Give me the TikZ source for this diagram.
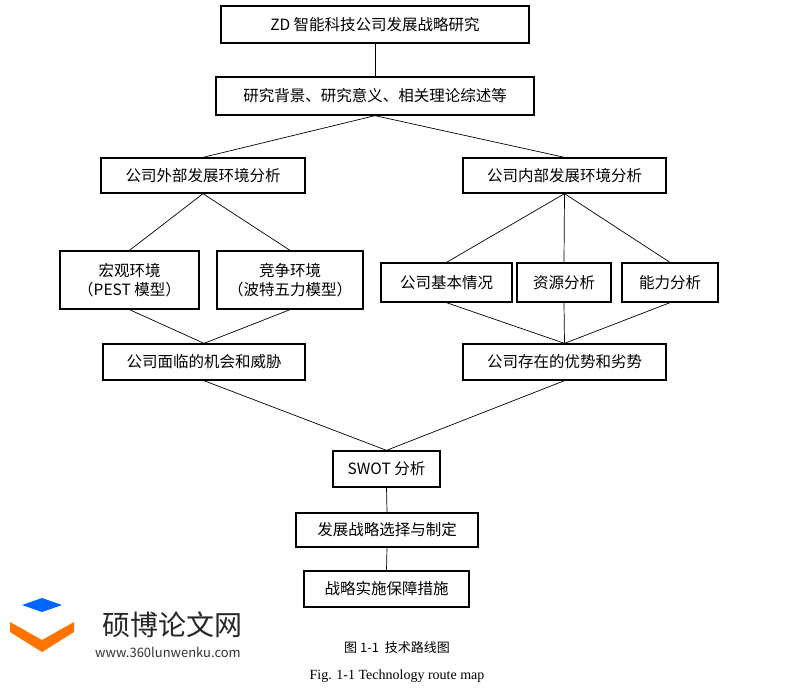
\documentclass[tikz,border=0pt]{standalone}
\usepackage{fontspec}
\setmainfont{Liberation Serif}
\newfontfamily\cjk{Noto Sans CJK SC}
\begin{document}
\begin{tikzpicture}[x=1pt,y=-1pt,
  bx/.style={draw,line width=1.3pt,inner sep=0pt,font=\cjk\fontsize{15.5}{19}\selectfont,align=center},
  ln/.style={line width=0.7pt}]
\useasboundingbox (0,0) rectangle (797,689);
\newcommand\bx[6]{\node[bx,minimum width=#4-#2,minimum height=#5-#3] (#1) at ({(#2+#4)/2},{(#3+#5)/2}) {#6};}
\bx{b1}{221}{6}{529}{43}{ZD 智能科技公司发展战略研究}
\bx{b2}{216}{77}{534}{115}{研究背景、研究意义、相关理论综述等}
\bx{b3}{101}{158}{305}{193}{公司外部发展环境分析}
\bx{b4}{463}{158}{666}{193}{公司内部发展环境分析}
\bx{b5}{60}{251}{199}{309}{宏观环境\\（PEST 模型）}
\bx{b6}{217}{251}{363}{309}{竞争环境\\（波特五力模型）}
\bx{b7}{381}{263}{512}{302}{公司基本情况}
\bx{b8}{517}{263}{611}{302}{资源分析}
\bx{b9}{622}{263}{718}{302}{能力分析}
\bx{b10}{103}{344}{305}{380}{公司面临的机会和威胁}
\bx{b11}{463}{344}{666}{380}{公司存在的优势和劣势}
\bx{b12}{333}{451}{440}{487}{SWOT 分析}
\bx{b13}{296}{513}{478}{547}{发展战略选择与制定}
\bx{b14}{304}{571}{469}{607}{战略实施保障措施}
\draw[ln] (b1.south) -- (b2.north);
\draw[ln] (b2.south) -- (b3.north);
\draw[ln] (b2.south) -- (b4.north);
\draw[ln] (b3.south) -- (b5.north);
\draw[ln] (b3.south) -- (b6.north);
\draw[ln] (b4.south) -- (b7.north);
\draw[ln] (b4.south) -- (b8.north);
\draw[ln] (b4.south) -- (b9.north);
\draw[ln] (b5.south) -- (b10.north);
\draw[ln] (b6.south) -- (b10.north);
\draw[ln] (b7.south) -- (b11.north);
\draw[ln] (b8.south) -- (b11.north);
\draw[ln] (b9.south) -- (b11.north);
\draw[ln] (b10.south) -- (b12.north);
\draw[ln] (b11.south) -- (b12.north);
\draw[ln] (b12.south) -- (b13.north);
\draw[ln] (b13.south) -- (b14.north);
\node[font=\cjk\fontsize{13}{15}\selectfont] (cap1) at (397,648) {图 1-1\ \ 技术路线图};
\node[font=\fontsize{14}{16}\selectfont] (cap2) at (397,676) {Fig. 1-1 Technology route map};
% watermark
\fill[orange!90!red] (10,622) -- (42,640) -- (74,622) -- (74,632) -- (42,652) -- (10,632) -- cycle;
\fill[blue!60!cyan] (22,605) -- (42,598) -- (62,605) -- (42,612) -- cycle;
\node[font=\cjk\fontsize{28}{30}\selectfont,text=black!85] (wm1) at (172,625) {硕博论文网};
\node[font=\cjk\fontsize{13}{15}\selectfont,text=black!80] (wm2) at (168,652) {www.360lunwenku.com};
\end{tikzpicture}
\end{document}
